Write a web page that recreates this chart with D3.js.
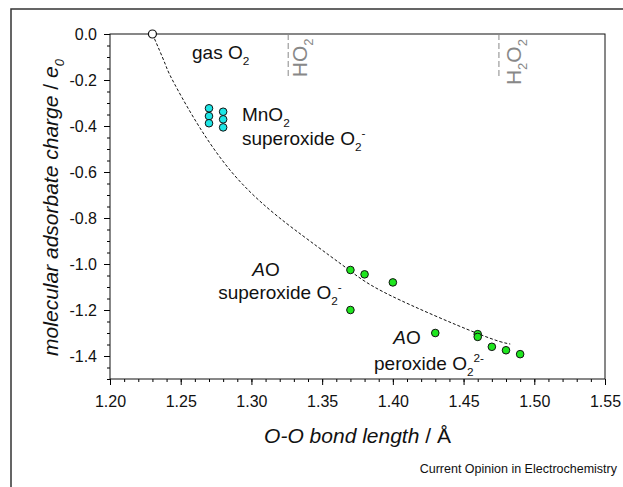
<!DOCTYPE html>
<html>
<head>
<meta charset="utf-8">
<script src="https://cdn.jsdelivr.net/npm/d3@7"></script>
<style>
  body { margin: 0; background: #fff; }
  svg { display: block; font-family: "Liberation Sans", Arial, sans-serif; }
</style>
</head>
<body>
<div id="chart"></div>
<script>
// data
var gasX = [1.23];
var gasY = [0.0];

var mnX = [1.27, 1.27, 1.27, 1.28, 1.28, 1.28];
var mnY = [-0.323, -0.357, -0.388, -0.338, -0.371, -0.406];

var aoX = [1.37, 1.38, 1.40, 1.37, 1.43, 1.46, 1.46, 1.47, 1.48, 1.49];
var aoY = [-1.026, -1.045, -1.08, -1.20, -1.30, -1.305, -1.317, -1.36, -1.375, -1.392];

// dashed guide curve
var fitX = [1.23, 1.239, 1.248, 1.286, 1.3365, 1.369, 1.399, 1.459, 1.483];
var fitY = [0.0, -0.13, -0.244, -0.60, -0.878, -1.026, -1.139, -1.30, -1.348];

// reference bond lengths
var refNames = ["HO2", "H2O2"];
var refX = [1.326, 1.475];

var xTicks = [1.20, 1.25, 1.30, 1.35, 1.40, 1.45, 1.50, 1.55];
var xTickLabels = ["1.20", "1.25", "1.30", "1.35", "1.40", "1.45", "1.50", "1.55"];
var yTicks = [0.0, -0.2, -0.4, -0.6, -0.8, -1.0, -1.2, -1.4];
var yTickLabels = ["0.0", "-0.2", "-0.4", "-0.6", "-0.8", "-1.0", "-1.2", "-1.4"];

var svgWidth = 623;
var svgHeight = 487;

var plot = { left: 110, right: 605, top: 34, bottom: 379 };

var svg = d3.select("#chart").append("svg")
  .attr("width", svgWidth)
  .attr("height", svgHeight);

// outer frame (runs off the right and bottom edges)
svg.append("rect")
  .attr("x", 11).attr("y", 9)
  .attr("width", 700).attr("height", 600)
  .attr("fill", "none")
  .attr("stroke", "#333")
  .attr("stroke-width", 1.5);

var x = d3.scaleLinear().domain([1.2, 1.55]).range([plot.left, plot.right]);
var y = d3.scaleLinear().domain([-1.5, 0]).range([plot.bottom, plot.top]);

// minor ticks
svg.append("g")
  .attr("transform", `translate(0, ${plot.bottom})`)
  .call(d3.axisBottom(x).tickValues(d3.range(120, 156, 1).map(d => d / 100)).tickSize(3).tickFormat(""))
  .call(g => g.select(".domain").remove());
svg.append("g")
  .attr("transform", `translate(${plot.left}, 0)`)
  .call(d3.axisLeft(y).tickValues(d3.range(-150, 1, 5).map(d => d / 100)).tickSize(3).tickFormat(""))
  .call(g => g.select(".domain").remove());

// major ticks
var xAxis = svg.append("g")
  .attr("transform", `translate(0, ${plot.bottom})`)
  .call(d3.axisBottom(x).tickValues(xTicks).tickSize(6).tickPadding(11)
    .tickFormat((d, i) => xTickLabels[i]));
xAxis.selectAll("text").attr("font-size", 16).attr("fill", "#111")
  .attr("font-family", "'Liberation Sans', Arial, sans-serif");
xAxis.select(".domain").remove();

var yAxis = svg.append("g")
  .attr("transform", `translate(${plot.left}, 0)`)
  .call(d3.axisLeft(y).tickValues(yTicks).tickSize(6).tickPadding(7)
    .tickFormat((d, i) => yTickLabels[i]));
yAxis.selectAll("text").attr("font-size", 16).attr("fill", "#111")
  .attr("font-family", "'Liberation Sans', Arial, sans-serif");
yAxis.select(".domain").remove();

// plot box
svg.append("rect")
  .attr("x", plot.left).attr("y", plot.top)
  .attr("width", plot.right - plot.left).attr("height", plot.bottom - plot.top)
  .attr("fill", "none")
  .attr("stroke", "#111")
  .attr("stroke-width", 1);

// reference dashed verticals
svg.selectAll(".refline")
  .data(refX)
  .enter()
  .append("line")
  .attr("class", "refline")
  .attr("x1", d => x(d)).attr("x2", d => x(d))
  .attr("y1", y(0)).attr("y2", y(-0.19))
  .attr("stroke", "#888")
  .attr("stroke-width", 1)
  .attr("stroke-dasharray", "6,3");

// helper: text with sub/superscripts
function richText(g, px, py, parts, opts) {
  opts = opts || {};
  var t = g.append("text")
    .attr("x", px).attr("y", py)
    .attr("font-size", opts.size || 19)
    .attr("fill", opts.fill || "#111");
  if (opts.transform) t.attr("transform", opts.transform);
  if (opts.anchor) t.attr("text-anchor", opts.anchor);
  var shift = 0;
  parts.forEach(function(p) {
    var s = p.sub ? 6 : p.sup ? -8 : 0;
    var ts = t.append("tspan")
      .attr("dy", s - shift)
      .text(p.t);
    if (p.sub || p.sup) ts.attr("font-size", (opts.size || 19) * 0.62);
    if (p.it) ts.attr("font-style", "italic");
    shift = s;
  });
  return t;
}

// reference labels (rotated)
richText(svg, 0, 0, [{t: "HO"}, {t: "2", sub: true}],
  {size: 21, fill: "#888", transform: `translate(${x(1.326) + 19}, ${y(-0.188)}) rotate(-90)`});
richText(svg, 0, 0, [{t: "H"}, {t: "2", sub: true}, {t: "O"}, {t: "2", sub: true}],
  {size: 21, fill: "#888", transform: `translate(${x(1.475) + 22}, ${y(-0.222)}) rotate(-90)`});

// guide curve
var line = d3.line()
  .x((d, i) => x(fitX[i]))
  .y((d, i) => y(fitY[i]))
  .curve(d3.curveNatural);

svg.append("path")
  .datum(fitX)
  .attr("d", line)
  .attr("fill", "none")
  .attr("stroke", "#111")
  .attr("stroke-width", 1)
  .attr("stroke-dasharray", "3,2");

// points
svg.selectAll(".gas")
  .data(gasX)
  .enter()
  .append("circle")
  .attr("cx", d => x(d))
  .attr("cy", (d, i) => y(gasY[i]))
  .attr("r", 4)
  .attr("fill", "#fff")
  .attr("stroke", "#111")
  .attr("stroke-width", 1.2);

svg.selectAll(".mn")
  .data(mnX)
  .enter()
  .append("circle")
  .attr("cx", d => x(d))
  .attr("cy", (d, i) => y(mnY[i]))
  .attr("r", 3.8)
  .attr("fill", "#1ee6e6")
  .attr("stroke", "#111")
  .attr("stroke-width", 1);

svg.selectAll(".ao")
  .data(aoX)
  .enter()
  .append("circle")
  .attr("cx", d => x(d))
  .attr("cy", (d, i) => y(aoY[i]))
  .attr("r", 3.8)
  .attr("fill", "#1ee61e")
  .attr("stroke", "#111")
  .attr("stroke-width", 1);

// annotations
richText(svg, x(1.258), y(-0.108), [{t: "gas O"}, {t: "2", sub: true}]);
richText(svg, x(1.2933), y(-0.378), [{t: "MnO"}, {t: "2", sub: true}]);
richText(svg, x(1.2933), y(-0.483), [{t: "superoxide O"}, {t: "2", sub: true}, {t: "-", sup: true}]);
richText(svg, x(1.3006), y(-1.052), [{t: "A", it: true}, {t: "O"}]);
richText(svg, x(1.2765), y(-1.153), [{t: "superoxide O"}, {t: "2", sub: true}, {t: "-", sup: true}]);
richText(svg, x(1.4003), y(-1.349), [{t: "A", it: true}, {t: "O"}]);
richText(svg, x(1.3867), y(-1.46), [{t: "peroxide O"}, {t: "2", sub: true}, {t: "2-", sup: true}]);

// axis titles
richText(svg, (plot.left + plot.right) / 2, 443, [
  {t: "O-O bond length", it: true}, {t: " / Å"}
], {size: 21, anchor: "middle"});

richText(svg, 0, 0, [
  {t: "molecular adsorbate charge", it: true}, {t: " / "}, {t: "e", it: true}, {t: "0", sub: true, it: true}
], {size: 21, anchor: "middle", transform: `translate(58, ${(plot.top + plot.bottom) / 2 + 1}) rotate(-90)`});

svg.append("text")
  .attr("x", 617).attr("y", 473)
  .attr("text-anchor", "end")
  .attr("font-size", 12.5)
  .attr("fill", "#111")
  .text("Current Opinion in Electrochemistry");
</script>
</body>
</html>
